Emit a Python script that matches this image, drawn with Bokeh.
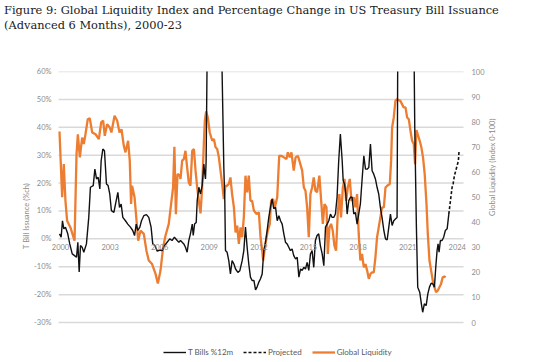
import math
from bokeh.plotting import figure
from bokeh.models import Range1d, LinearAxis, FixedTicker, Legend, LegendItem, Div
from bokeh.layouts import column
from bokeh.embed import file_html
from bokeh.resources import INLINE

title_line1 = "Figure 9: Global Liquidity Index and Percentage Change in US Treasury Bill Issuance"
title_line2 = "(Advanced 6 Months), 2000-23"
left_axis_title = "T Bill Issuance (%ch)"
right_axis_title = "Global Liquidity (Index 0-100)"
series_names = ["T Bills %12m", "Projected", "Global Liquidity"]

year_ticks = [2000, 2003, 2006, 2009, 2012, 2015, 2018, 2021, 2024]
year_labels = ["2000", "2003", "2006", "2009", "2012", "2015", "2018", "2021", "2024"]
left_ticks = [-30, -20, -10, 0, 10, 20, 30, 40, 50, 60]
left_labels = ["-30%", "-20%", "-10%", "0%", "10%", "20%", "30%", "40%", "50%", "60%"]
right_ticks = [0, 10, 20, 30, 40, 50, 60, 70, 80, 90, 100]

# Global Liquidity index (right axis, 0-100)
liq_years = [1999.94, 2000.10, 2000.20, 2000.30, 2000.40, 2000.60, 2000.85, 2000.97, 2001.05, 2001.17,
             2001.31, 2001.41, 2001.51, 2001.65, 2001.77, 2001.92, 2002.12, 2002.32, 2002.46, 2002.58,
             2002.68, 2002.82, 2002.98, 2003.08, 2003.27, 2003.43, 2003.57, 2003.69, 2003.83, 2003.93,
             2004.09, 2004.19, 2004.27, 2004.33, 2004.48, 2004.60, 2004.70, 2004.84, 2005.04, 2005.20,
             2005.34, 2005.54, 2005.75, 2005.89, 2006.05, 2006.21, 2006.35, 2006.55, 2006.69, 2006.81,
             2006.89, 2006.98, 2007.08, 2007.22, 2007.26, 2007.36, 2007.46, 2007.56, 2007.66, 2007.76,
             2007.86, 2007.97, 2008.07, 2008.17, 2008.27, 2008.37, 2008.47, 2008.57, 2008.67, 2008.73,
             2008.81, 2008.91, 2009.03, 2009.18, 2009.28, 2009.38, 2009.48, 2009.58, 2009.68, 2009.78,
             2009.88, 2009.98, 2010.08, 2010.18, 2010.28, 2010.38, 2010.49, 2010.59, 2010.69, 2010.79,
             2010.89, 2010.99, 2011.09, 2011.19, 2011.29, 2011.39, 2011.49, 2011.59, 2011.70, 2011.86,
             2012.00, 2012.10, 2012.20, 2012.26, 2012.40, 2012.54, 2012.66, 2012.74, 2012.86, 2012.97,
             2013.11, 2013.23, 2013.35, 2013.51, 2013.67, 2013.75, 2013.87, 2013.97, 2014.11, 2014.22,
             2014.36, 2014.48, 2014.62, 2014.72, 2014.82, 2014.92, 2015.02, 2015.12, 2015.22, 2015.32,
             2015.42, 2015.52, 2015.66, 2015.77, 2015.87, 2015.97, 2016.09, 2016.17, 2016.27, 2016.37,
             2016.47, 2016.57, 2016.67, 2016.77, 2016.87, 2016.97, 2017.08, 2017.18, 2017.28, 2017.38,
             2017.50, 2017.60, 2017.74, 2017.84, 2017.94, 2018.04, 2018.14, 2018.24, 2018.35, 2018.45,
             2018.55, 2018.65, 2018.75, 2018.85, 2018.95, 2019.05, 2019.15, 2019.25, 2019.35, 2019.45,
             2019.56, 2019.66, 2019.76, 2019.92, 2020.00, 2020.06, 2020.16, 2020.26, 2020.36, 2020.46,
             2020.56, 2020.66, 2020.76, 2020.87, 2020.97, 2021.07, 2021.17, 2021.27, 2021.37, 2021.45,
             2021.53, 2021.61, 2021.73, 2021.83, 2021.93, 2022.03, 2022.14, 2022.22, 2022.32, 2022.42,
             2022.52, 2022.62, 2022.72, 2022.82, 2022.92, 2023.02, 2023.12, 2023.22, 2023.30]
liq_vals = [76.1, 49.9, 63.1, 48.5, 40.6, 37.9, 32.6, 67.1, 75.0, 65.8,
            73.7, 71.1, 75.0, 81.0, 81.4, 75.7, 75.0, 73.1, 79.7, 80.4,
            74.4, 79.0, 77.7, 75.7, 82.4, 80.4, 75.7, 77.0, 70.4, 67.8,
            72.4, 64.5, 47.2, 54.5, 49.9, 40.6, 32.6, 36.6, 35.3, 28.6,
            24.7, 23.3, 19.4, 15.6, 20.7, 30.0, 34.6, 39.3, 47.2, 53.8,
            70.0, 43.2, 59.2, 58.5, 57.2, 64.5, 65.1, 68.4, 61.8, 55.8,
            54.5, 68.4, 69.1, 60.5, 53.8, 48.5, 43.5, 53.8, 71.1, 80.4,
            84.1, 81.7, 75.7, 72.4, 73.1, 69.8, 69.1, 65.8, 60.5, 55.2,
            49.2, 54.5, 54.5, 55.2, 57.8, 51.2, 45.9, 35.9, 38.6, 31.3,
            37.9, 34.0, 41.9, 58.5, 51.9, 58.5, 48.5, 48.5, 44.6, 43.2,
            43.9, 34.0, 28.6, 24.7, 31.3, 36.6, 39.3, 48.5, 49.2, 45.9,
            49.9, 66.4, 66.4, 65.8, 65.1, 67.8, 65.8, 67.8, 60.5, 65.8,
            66.4, 63.8, 60.5, 53.8, 52.5, 45.9, 34.0, 51.2, 53.8, 57.8,
            52.5, 51.9, 58.5, 48.5, 39.3, 47.2, 45.9, 27.3, 37.9, 39.3,
            36.6, 30.6, 28.6, 43.2, 51.2, 41.9, 53.8, 57.2, 48.5, 53.8,
            57.2, 48.5, 49.9, 45.9, 51.2, 35.3, 24.7, 27.3, 22.0, 23.3,
            20.7, 17.4, 19.4, 20.0, 20.0, 26.0, 34.0, 37.9, 41.9, 45.9,
            45.9, 53.8, 54.5, 55.2, 64.5, 77.7, 81.7, 88.3, 89.0, 88.6,
            88.3, 87.0, 85.7, 85.7, 81.7, 81.0, 76.4, 72.4, 71.1, 63.1,
            76.7, 75.0, 72.4, 69.8, 65.8, 59.2, 47.2, 35.3, 24.7, 20.7,
            16.7, 14.1, 12.1, 12.7, 14.1, 15.4, 18.0, 18.3, 18.0]

# T-bill issuance % change y/y (left axis); spikes run off the top of the chart
tb_years = [1999.94, 2000.04, 2000.12, 2000.20, 2000.30, 2000.44, 2000.56, 2000.71, 2000.85, 2000.97,
            2001.05, 2001.13, 2001.21, 2001.31, 2001.41, 2001.57, 2001.71, 2001.81, 2001.98, 2002.08,
            2002.18, 2002.28, 2002.38, 2002.46, 2002.56, 2002.66, 2002.78, 2002.88, 2002.98, 2003.08,
            2003.23, 2003.37, 2003.47, 2003.57, 2003.67, 2003.77, 2003.93, 2004.07, 2004.23, 2004.37,
            2004.48, 2004.58, 2004.68, 2004.80, 2004.90, 2005.04, 2005.20, 2005.34, 2005.48, 2005.58,
            2005.71, 2005.85, 2006.01, 2006.15, 2006.29, 2006.45, 2006.61, 2006.75, 2006.89, 2007.06,
            2007.16, 2007.26, 2007.36, 2007.46, 2007.56, 2007.66, 2007.76, 2007.86, 2007.97, 2008.03,
            2008.11, 2008.21, 2008.27, 2008.37, 2008.47, 2008.57, 2008.67, 2008.73, 2008.77, 2008.81,
            2008.87, 2009.28, 2009.76, 2009.88, 2009.94, 2009.98, 2010.08, 2010.18, 2010.28, 2010.38,
            2010.49, 2010.59, 2010.73, 2010.85, 2010.99, 2011.09, 2011.19, 2011.29, 2011.39, 2011.49,
            2011.59, 2011.70, 2011.80, 2011.90, 2012.00, 2012.10, 2012.20, 2012.30, 2012.40, 2012.50,
            2012.60, 2012.70, 2012.80, 2012.90, 2013.01, 2013.11, 2013.21, 2013.31, 2013.41, 2013.51,
            2013.61, 2013.71, 2013.81, 2013.91, 2014.01, 2014.11, 2014.22, 2014.32, 2014.42, 2014.52,
            2014.62, 2014.72, 2014.82, 2014.92, 2015.02, 2015.12, 2015.22, 2015.32, 2015.42, 2015.52,
            2015.62, 2015.72, 2015.83, 2015.93, 2016.03, 2016.13, 2016.23, 2016.33, 2016.43, 2016.53,
            2016.63, 2016.73, 2016.83, 2016.93, 2017.04, 2017.10, 2017.18, 2017.26, 2017.34, 2017.44,
            2017.54, 2017.64, 2017.74, 2017.84, 2017.94, 2018.04, 2018.14, 2018.24, 2018.35, 2018.45,
            2018.55, 2018.65, 2018.75, 2018.85, 2018.95, 2019.05, 2019.15, 2019.25, 2019.35, 2019.45,
            2019.56, 2019.66, 2019.76, 2019.86, 2019.96, 2020.06, 2020.16, 2020.26, 2020.36, 2020.40,
            2020.87, 2021.39, 2021.43, 2021.53, 2021.61, 2021.73, 2021.83, 2021.91, 2022.01, 2022.12,
            2022.22, 2022.32, 2022.42, 2022.52, 2022.62, 2022.70, 2022.78, 2022.84, 2022.90, 2022.98,
            2023.08, 2023.18, 2023.28, 2023.39, 2023.49]
tb_vals = [1.8, 0.6, 6.5, 3.6, 4.2, 1.8, -1.8, -5.4, -6.0, -6.6,
           -1.2, -11.9, -2.4, -3.0, -4.8, -1.8, 7.7, 18.5, 19.1, 25.0,
           21.5, 22.1, 17.9, 28.0, 32.2, 31.6, 19.7, 19.1, 16.1, 10.1,
           9.5, 13.7, 16.7, 11.3, 12.5, 7.7, 6.5, 5.3, 4.2, 3.0,
           1.2, 5.3, 3.0, 4.2, 6.5, 8.3, 8.7, 7.7, 4.2, -1.8,
           -2.4, -4.4, -4.0, -4.2, -2.4, -1.2, 0.0, -0.6, 0.6, -0.6,
           -1.2, -0.6, -1.2, -1.8, -3.0, -4.8, -0.6, 1.8, 5.3, 1.2,
           5.3, 5.9, 13.7, 18.5, 16.1, 19.1, 26.8, 23.2, 21.5, 28.0,
           65.0, 110.0, 65.0, 25.6, 13.7, -4.2, -4.8, -7.8, -12.6, -7.8,
           -9.0, -10.8, -12.0, -11.4, -7.8, -4.2, 4.2, -3.0, -9.0, -13.7,
           -14.9, -14.9, -18.3, -17.1, -15.5, -14.3, -12.6, -4.2, -1.2, 3.0,
           7.7, 11.3, 14.3, 10.8, 11.3, 6.5, 8.3, 6.5, 5.3, 1.8,
           -1.2, -1.8, -3.0, -4.2, -3.6, -6.0, -7.2, -6.6, -13.7, -10.8,
           -11.3, -10.2, -10.8, -8.4, -11.3, -5.4, -4.2, -10.2, -0.6, 1.2,
           1.8, -2.4, -5.4, -9.6, 4.2, 5.3, 6.5, 8.9, 7.7, 7.7,
           8.9, 14.9, 28.0, 37.6, 28.0, 20.9, 19.7, 16.1, 8.9, 13.7,
           14.9, 14.9, 8.9, 9.5, 5.3, 8.9, 12.5, 20.9, 29.8, 25.0,
           25.0, 25.6, 34.0, 24.4, 23.2, 21.5, 18.5, 16.1, 11.3, 7.7,
           3.0, 0.0, -0.4, 4.2, 8.9, 4.8, 6.5, 7.1, 7.7, 65.0,
           110.0, 65.0, 40.0, 4.2, -17.3, -19.1, -23.3, -26.3, -23.3, -23.9,
           -19.7, -17.3, -15.9, -16.1, -17.3, -10.2, -4.2, -1.8, -4.8, -0.6,
           -0.6, 0.6, 3.0, 3.6, 8.9]

# Projected T-bill issuance (dashed)
proj_years = [2023.49, 2023.59, 2023.69, 2023.75, 2023.83, 2023.91, 2023.99, 2024.07, 2024.11]
proj_vals = [8.9, 13.7, 18.5, 19.7, 22.7, 24.4, 26.2, 28.0, 31.6]

GRAY = "#8c8c8c"
ORANGE = "#ED7D31"
FONT = "Lato"

# layout constants: visible window (extra room at the bottom holds the legend)
X_START, X_END = 1999.456, 2024.56
GRID_X0, GRID_X1 = 1999.88, 2024.38
Y_START, Y_END = -43.6, 60
Y2_START, Y2_END = -15.11, 100

title = Div(
    text=("<div style=\"font-family:'DejaVu Serif'; font-size:11.4px; line-height:15px; "
          "color:#1a1a1a; padding-top:3px; padding-left:4px; white-space:nowrap;\">"
          + title_line1 + "<br>" + title_line2 + "</div>"),
    width=555, height=40, margin=(0, 0, 0, 0))

p = figure(width=555, height=320, x_range=Range1d(X_START, X_END), y_range=Range1d(Y_START, Y_END),
           output_backend="svg", toolbar_location=None,
           min_border_left=51, min_border_right=89, min_border_top=31, min_border_bottom=0)
p.outline_line_color = None
p.background_fill_color = "white"
p.border_fill_color = "white"
p.extra_y_ranges = {"liq": Range1d(Y2_START, Y2_END)}

# grid (horizontal lines only across the plotting window)
p.xgrid.grid_line_color = None
p.ygrid.grid_line_color = None
p.segment(x0=GRID_X0, x1=GRID_X1, y0=left_ticks, y1=left_ticks,
          line_color="#d9d9d9", line_width=1.5)

# x axis at 0%
xa = p.xaxis[0]
xa.fixed_location = 0
xa.ticker = FixedTicker(ticks=year_ticks)
xa.major_label_overrides = {t: l for t, l in zip(year_ticks, year_labels)}
xa.axis_line_color = None
xa.major_tick_line_color = None
xa.minor_tick_line_color = None
xa.major_tick_out = 0
xa.major_tick_in = 0
xa.major_label_standoff = 5
xa.major_label_text_font = FONT
xa.major_label_text_font_size = "7.5px"
xa.major_label_text_color = GRAY

# left axis
ya = p.yaxis[0]
ya.ticker = FixedTicker(ticks=left_ticks)
ya.major_label_overrides = {t: l for t, l in zip(left_ticks, left_labels)}
ya.axis_line_color = None
ya.major_tick_line_color = None
ya.minor_tick_line_color = None
ya.major_tick_out = 0
ya.major_tick_in = 0
ya.major_label_standoff = 0
ya.major_label_text_font = FONT
ya.major_label_text_font_size = "7.5px"
ya.major_label_text_color = GRAY
ya.axis_label = left_axis_title
ya.axis_label_text_font = FONT
ya.axis_label_text_font_size = "7.5px"
ya.axis_label_text_font_style = "normal"
ya.axis_label_text_color = GRAY
ya.axis_label_standoff = 0

# right axis
ra = LinearAxis(y_range_name="liq", ticker=FixedTicker(ticks=right_ticks))
ra.axis_line_color = None
ra.major_tick_line_color = None
ra.minor_tick_line_color = None
ra.major_tick_out = 0
ra.major_tick_in = 0
ra.major_label_standoff = 5
ra.major_label_text_font = FONT
ra.major_label_text_font_size = "7.5px"
ra.major_label_text_color = GRAY
ra.axis_label = right_axis_title
ra.axis_label_text_font = FONT
ra.axis_label_text_font_size = "7.5px"
ra.axis_label_text_font_style = "normal"
ra.axis_label_text_color = GRAY
ra.axis_label_standoff = 5
ra.axis_label_orientation = math.pi / 2
p.add_layout(ra, "right")

r_liq = p.line(liq_years, liq_vals, y_range_name="liq", line_color=ORANGE, line_width=2.3)
r_tb = p.line(tb_years, tb_vals, line_color="#111111", line_width=1.4)
r_proj = p.line(proj_years, proj_vals, line_color="#111111", line_width=1.6, line_dash="3 2")

legend = Legend(items=[LegendItem(label=series_names[0], renderers=[r_tb]),
                       LegendItem(label=series_names[1], renderers=[r_proj]),
                       LegendItem(label=series_names[2], renderers=[r_liq])],
                orientation="horizontal", location=(112, 3))
legend.background_fill_alpha = 0
legend.border_line_color = None
legend.label_text_font = FONT
legend.label_text_font_size = "8px"
legend.label_text_color = "#595959"
legend.glyph_width = 23
legend.glyph_height = 8
legend.label_height = 8
legend.label_standoff = 2
legend.spacing = 10
legend.padding = 0
legend.margin = 0
p.add_layout(legend)

layout = column(title, p, spacing=0)
open("out.html", "w").write(file_html(layout, INLINE))
